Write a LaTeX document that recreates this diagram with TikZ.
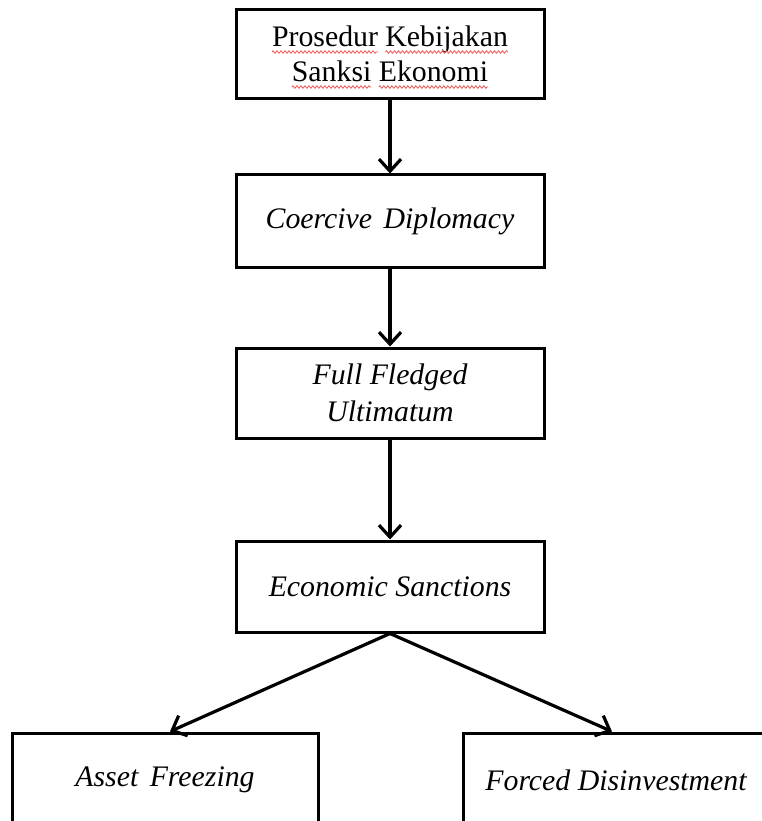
\documentclass[tikz,border=0pt]{standalone}
\usepackage{fontspec}
\setmainfont{Liberation Serif}
\usetikzlibrary{arrows.meta,decorations.pathmorphing}
\definecolor{spellred}{RGB}{240,90,90}
\tikzset{
  boxnode/.style={draw=black, line width=3pt, minimum width=308pt, minimum height=#1, inner sep=0pt, align=center, font=\fontsize{29.8}{36}\selectfont\itshape},
  lowbox/.style={draw=black, line width=3pt, minimum width=306pt, minimum height=94pt, inner sep=0pt, align=center, font=\fontsize{29.8}{36}\selectfont\itshape},
  wordline/.style={inner sep=0pt, outer sep=0pt, anchor=base, font=\fontsize{29.8}{36}\selectfont},
  squiggle/.style={draw=spellred, line width=0.8pt, decorate, decoration={zigzag, amplitude=1.3pt, segment length=4pt}},
  flowarrow/.style={line width=3.2pt, -{Straight Barb[length=12pt,width=22pt]}}
}
\begin{document}
\begin{tikzpicture}[x=1pt,y=-1pt]
\fontsize{29.8}{36}\selectfont
\pgfmathsetmacro\wA{width("Prosedur")}
\pgfmathsetmacro\wB{width("Kebijakan")}
\pgfmathsetmacro\wC{width("Sanksi")}
\pgfmathsetmacro\wD{width("Ekonomi")}
\useasboundingbox (0,0) rectangle (762,821);
\clip (0,0) rectangle (762,821);
\fill[white] (0,0) rectangle (762,821);
\node[boxnode=89pt] (b1) at (390,54.5) {};
\node[wordline] (l1) at (390,47) {Prosedur Kebijakan};
\node[wordline] (l2) at (390,82) {Sanksi Ekonomi};
\path[squiggle] ([yshift=-5pt]l1.base west) -- ([xshift=\wA pt, yshift=-5pt]l1.base west);
\path[squiggle] ([xshift=-\wB pt, yshift=-5pt]l1.base east) -- ([yshift=-5pt]l1.base east);
\path[squiggle] ([yshift=-5pt]l2.base west) -- ([xshift=\wC pt, yshift=-5pt]l2.base west);
\path[squiggle] ([xshift=-\wD pt, yshift=-5pt]l2.base east) -- ([yshift=-5pt]l2.base east);
\node[boxnode=92pt] (b2) at (390,221) {\raisebox{-5pt}{Coercive\hspace{4pt} Diplomacy}};
\node[boxnode=90pt, font=\fontsize{29.8}{37}\selectfont\itshape] (b3) at (390,393) {Full Fledged\\Ultimatum};
\node[boxnode=91pt] (b4) at (390,586.5) {Economic Sanctions};
\node[lowbox] (b5) at (165,780) {Asset\hspace{4pt} Freezing};
\node[lowbox] (b6) at (616,780) {Forced Disinvestment};
\draw[flowarrow] (b1.south) -- (b2.north);
\draw[flowarrow] (b2.south) -- (b3.north);
\draw[flowarrow] (b3.south) -- (b4.north);
\draw[flowarrow] (b4.south) -- ([xshift=5pt]b5.north);
\draw[flowarrow] (b4.south) -- ([xshift=-4pt]b6.north);
\end{tikzpicture}
\end{document}
